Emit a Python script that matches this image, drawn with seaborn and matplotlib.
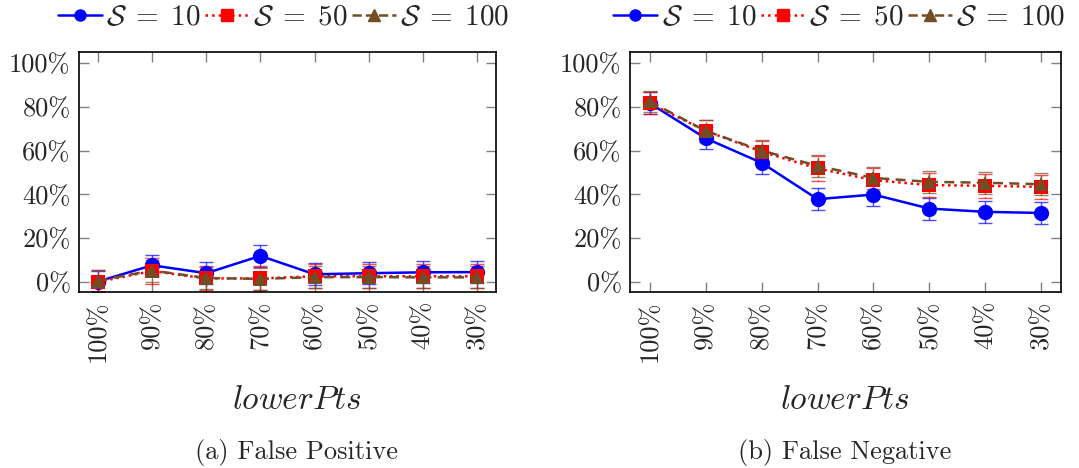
import numpy as np
import pandas as pd
import matplotlib
matplotlib.use("Agg")
import matplotlib.pyplot as plt
import seaborn as sns

# x categories (lowerPts)
lower_pts = ['100%', '90%', '80%', '70%', '60%', '50%', '40%', '30%']
sizes = ['10', '50', '100']

# false positive rate (%) per S
fp_10 = [0.2, 7.6, 4.0, 11.9, 3.5, 4.0, 4.4, 4.5]
fp_50 = [0.0, 5.0, 1.6, 1.6, 2.6, 2.6, 2.6, 2.6]
fp_100 = [0.6, 5.2, 1.8, 1.4, 2.2, 2.2, 2.1, 2.1]
fp_err_10 = [5.0, 4.7, 5.0, 5.0, 5.0, 5.0, 5.0, 5.0]
fp_err_50 = [5.5, 6.0, 5.5, 5.5, 5.5, 5.5, 5.5, 5.5]
fp_err_100 = [5.0, 5.0, 5.0, 5.0, 5.0, 5.0, 5.0, 5.0]

# false negative rate (%) per S
fn_10 = [81.6, 65.6, 54.4, 37.8, 39.9, 33.5, 32.0, 31.5]
fn_50 = [81.6, 69.0, 59.5, 51.8, 46.5, 44.2, 43.9, 43.4]
fn_100 = [82.4, 69.0, 60.0, 53.0, 47.5, 45.7, 45.3, 44.6]
fn_err_10 = [5.0, 5.0, 5.0, 5.0, 5.0, 5.0, 5.0, 5.0]
fn_err_50 = [5.0, 5.0, 5.0, 5.5, 5.5, 5.5, 5.5, 5.5]
fn_err_100 = [5.0, 5.0, 5.0, 5.0, 5.0, 5.0, 5.0, 5.0]

sns.set_style("white")
plt.rcParams['font.family'] = ['cmr10', 'DejaVu Serif']
plt.rcParams['mathtext.fontset'] = 'cm'
plt.rcParams['axes.formatter.use_mathtext'] = True

colors = {'10': '#0000ff', '50': '#ff0000', '100': '#734d26'}
markers = {'10': 'o', '50': 's', '100': '^'}
msizes = {'10': 11, '50': 10, '100': 10}
dashes = {'10': '', '50': (1, 1.5), '100': (4, 2.5)}
lstyles = {'10': '-', '50': ':', '100': '--'}


def make_frame(v10, v50, v100):
    rows = []
    for s, vals in zip(sizes, [v10, v50, v100]):
        for i, v in enumerate(vals):
            rows.append({'pos': i, 'val': v, 'S': s})
    return pd.DataFrame(rows)


fig = plt.figure(figsize=(10.79, 4.68), dpi=100)
ax_l = fig.add_axes([0.0732, 0.376, 0.3865, 0.513])
ax_r = fig.add_axes([0.5839, 0.376, 0.3994, 0.513])

panels = [
    (ax_l, make_frame(fp_10, fp_50, fp_100), [fp_err_10, fp_err_50, fp_err_100], 0.263),
    (ax_r, make_frame(fn_10, fn_50, fn_100), [fn_err_10, fn_err_50, fn_err_100], 0.778),
]

for ax, df, errs, cx in panels:
    for s, err in zip(sizes, errs):
        sub = df[df['S'] == s]
        eb = ax.errorbar(sub['pos'], sub['val'], yerr=err, fmt='none',
                         ecolor=colors[s], elinewidth=1.0, capsize=5,
                         capthick=1.0, alpha=0.7, zorder=2)
        eb[2][0].set_linestyle(lstyles[s])
    sns.lineplot(data=df, x='pos', y='val', hue='S', style='S',
                 palette=colors, markers=markers, dashes=dashes,
                 hue_order=sizes, style_order=sizes, ax=ax,
                 linewidth=1.8, markeredgewidth=0, legend=False, zorder=3)
    for line, s in zip(ax.get_lines()[-3:], sizes):
        line.set_markersize(msizes[s])

    ax.set_xlim(-0.35, 7.35)
    ax.set_ylim(-4.6, 105)
    ax.set_xticks(range(len(lower_pts)))
    ax.set_xticklabels(lower_pts, rotation=90, fontsize=19)
    ax.set_yticks([0, 20, 40, 60, 80, 100])
    ax.set_yticklabels(['0%', '20%', '40%', '60%', '80%', '100%'], fontsize=19)
    ax.set_xlabel('')
    ax.set_ylabel('')
    ax.tick_params(direction='in', length=7, width=1, color='#808080',
                   top=True, right=True, bottom=True, left=True, pad=6)
    for sp in ax.spines.values():
        sp.set_color('black')
        sp.set_linewidth(1.2)

    handles = []
    for s in sizes:
        h, = ax.plot([], [], color=colors[s], linestyle=lstyles[s],
                     marker=markers[s], markersize=8, linewidth=1.8)
        handles.append(h)
    fig.legend(handles, [r'$\mathcal{S}\;=\;%s$' % s for s in sizes],
               loc='center', bbox_to_anchor=(cx, 0.962), ncol=3,
               frameon=False, fontsize=21, handlelength=1.5,
               handletextpad=0.15, columnspacing=0.15, borderaxespad=0.0)

fig.text(0.275, 0.145, r'$lowerPts$', fontsize=24, ha='center', va='center')
fig.text(0.783, 0.145, r'$lowerPts$', fontsize=24, ha='center', va='center')
fig.text(0.275, 0.034, '(a) False Positive', fontsize=19, ha='center', va='center')
fig.text(0.783, 0.034, '(b) False Negative', fontsize=19, ha='center', va='center')

fig.savefig('out.png', dpi=100)
